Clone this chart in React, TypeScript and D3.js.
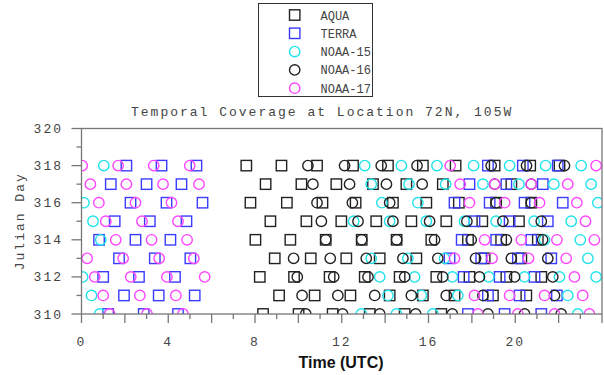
import React, { useEffect, useRef } from "react";
import * as d3 from "d3";

const days = [310, 311, 312, 313, 314, 315, 316, 317, 318];

// overpass times (UTC hours), one row per entry of `days`
const aqua = [
  [8.37, 10.01, 11.58, 13.29, 14.9, 16.59],
  [9.11, 10.75, 12.4, 14.21, 15.74, 17.2, 18.97, 20.51],
  [8.22, 9.8, 11.44, 13.06, 14.67, 16.36, 17.89, 19.59, 21.2],
  [8.91, 10.57, 12.21, 13.75, 15.44, 18.59, 20.28],
  [8.02, 9.63, 11.26, 12.92, 14.53, 16.13, 17.82, 19.35, 21.04],
  [8.71, 10.37, 11.98, 13.59, 15.21, 16.82, 18.48, 20.17],
  [7.79, 9.47, 11.11, 12.64, 14.36, 15.9, 17.4, 19.12, 20.74],
  [8.49, 10.14, 11.75, 13.44, 14.98, 16.66, 19.82],
  [7.6, 9.22, 10.86, 12.52, 14.13, 15.74, 17.25, 19.05, 20.69, 22.04],
];
const terra = [
  [1.23, 2.87, 4.45, 17.82, 19.51, 21.2],
  [1.96, 3.56, 5.22, 18.74, 20.2, 21.92],
  [1.0, 2.65, 4.31, 17.62, 19.28, 20.89],
  [1.73, 3.38, 5.02, 16.97, 18.43, 20.12, 21.66],
  [0.81, 2.49, 4.1, 17.53, 19.12, 20.74],
  [1.53, 3.15, 4.84, 18.12, 19.74, 21.5],
  [2.26, 3.92, 5.58, 17.2, 18.82, 20.43, 22.19],
  [1.35, 3.0, 4.61, 17.89, 19.59, 21.27],
  [2.07, 3.69, 5.3, 18.74, 20.35, 21.96],
];
const noaa15 = [
  [0.84, 12.9, 14.52, 16.2, 22.88],
  [0.46, 14.13, 15.67, 17.35, 22.42],
  [0.05, 13.75, 15.36, 17.1, 18.78, 20.43, 22.04, 23.73],
  [13.36, 15.05, 16.74, 23.35],
  [0.89, 21.35, 23.0],
  [0.53, 12.55, 14.21, 15.9, 17.66, 19.12, 20.87, 22.58],
  [0.11, 13.85, 15.51, 23.81],
  [13.36, 15.1, 16.79, 18.51, 20.17, 21.78, 23.5],
  [1.03, 13.06, 14.75, 16.39, 18.08, 19.74, 21.4, 23.04],
];
const noaa16 = [
  [10.34, 12.04, 13.75, 15.41, 17.1, 18.74, 20.43, 22.12],
  [10.17, 11.82, 13.52, 15.21, 16.82, 18.51, 21.81],
  [9.95, 11.63, 13.21, 14.9, 16.66, 18.35, 19.97, 21.73],
  [9.78, 11.47, 13.13, 14.82, 16.43, 18.17, 19.82, 21.5],
  [11.26, 12.92, 14.53, 16.28, 17.97, 19.59, 21.26],
  [11.06, 12.75, 14.36, 16.05, 17.77, 19.43, 21.2],
  [10.86, 12.49, 14.21, 19.12, 20.74],
  [10.67, 12.36, 14.06, 15.71, 19.05, 20.74],
  [10.44, 12.13, 13.82, 15.47, 18.89, 20.52, 22.27],
];
const noaa17 = [
  [1.3, 3.02, 4.68, 18.28, 20.12, 21.81, 23.42],
  [1.0, 2.69, 4.35, 18.12, 19.74, 21.35, 23.11],
  [0.61, 2.27, 3.94, 5.68, 22.73],
  [0.26, 1.92, 3.58, 5.18, 17.2, 18.93, 20.61, 22.35],
  [1.58, 3.23, 4.87, 18.59, 20.28, 21.92, 23.65],
  [1.12, 2.79, 4.45, 23.24],
  [0.8, 2.49, 4.15, 17.89, 19.51, 21.12, 22.84],
  [0.41, 2.07, 3.76, 5.42, 17.46, 19.05, 20.74, 22.42],
  [0.03, 1.69, 3.33, 4.99, 17.0, 23.73],
];

const xTicks = [0, 4, 8, 12, 16, 20];
const yTicks = [310, 312, 314, 316, 318, 320];

const series = [
  { name: "AQUA", shape: "square", color: "#222", data: aqua },
  { name: "TERRA", shape: "square", color: "#3b3bff", data: terra },
  { name: "NOAA-15", shape: "circle", color: "#1fe3ea", data: noaa15 },
  { name: "NOAA-16", shape: "circle", color: "#222", data: noaa16 },
  { name: "NOAA-17", shape: "circle", color: "#ff45ff", data: noaa17 },
];

const mono = "'Liberation Mono', 'DejaVu Sans Mono', monospace";

export default function App() {
  const svgRef = useRef<SVGSVGElement>(null);

  useEffect(() => {
    const W = 604;
    const H = 375;
    const svg = d3.select(svgRef.current);
    svg.selectAll("*").remove();
    svg.attr("width", W).attr("height", H).style("background", "#fff");

    const x = d3.scaleLinear().domain([0, 24]).range([81.5, 602]);
    const y = d3.scaleLinear().domain([310, 320]).range([314, 128.5]);
    const [x0, x1] = x.range();
    const [y0, y1] = y.range();
    const half = 5.2;

    svg
      .append("defs")
      .append("clipPath")
      .attr("id", "plot")
      .append("rect")
      .attr("x", x0)
      .attr("y", y1)
      .attr("width", x1 - x0)
      .attr("height", y0 - y1);

    const drawMark = (g, shape, color, cx, cy) => {
      if (shape === "square") {
        g.append("rect")
          .attr("x", cx - half)
          .attr("y", cy - half)
          .attr("width", half * 2)
          .attr("height", half * 2)
          .attr("fill", "none")
          .attr("stroke", color)
          .attr("stroke-width", 1.4);
      } else {
        g.append("circle")
          .attr("cx", cx)
          .attr("cy", cy)
          .attr("r", half)
          .attr("fill", "none")
          .attr("stroke", color)
          .attr("stroke-width", 1.4);
      }
    };

    const marks = svg.append("g").attr("clip-path", "url(#plot)");
    series.forEach((s) => {
      s.data.forEach((times, i) => {
        times.forEach((t) => drawMark(marks, s.shape, s.color, x(t), y(days[i])));
      });
    });

    // frame + axes
    const axisColor = "#777";
    svg
      .append("rect")
      .attr("x", x0)
      .attr("y", y1)
      .attr("width", x1 - x0)
      .attr("height", y0 - y1)
      .attr("fill", "none")
      .attr("stroke", axisColor)
      .attr("stroke-width", 1.3);

    d3.range(0, 25, 1).forEach((h) => {
      const len = h % 2 === 0 ? 9 : 5;
      svg
        .append("line")
        .attr("x1", x(h))
        .attr("x2", x(h))
        .attr("y1", y0)
        .attr("y2", y0 + len)
        .attr("stroke", axisColor)
        .attr("stroke-width", 1.3);
    });
    d3.range(310, 321, 1).forEach((d) => {
      const len = d % 2 === 0 ? 10 : 5;
      svg
        .append("line")
        .attr("x1", x0 - len)
        .attr("x2", x0)
        .attr("y1", y(d))
        .attr("y2", y(d))
        .attr("stroke", axisColor)
        .attr("stroke-width", 1.3);
    });

    svg
      .append("g")
      .selectAll("text")
      .data(xTicks)
      .join("text")
      .text((d) => `${d}`)
      .attr("x", (d) => x(d))
      .attr("y", 346)
      .attr("text-anchor", "middle")
      .attr("fill", "#444")
      .style("font-family", mono)
      .style("font-size", "13px")
      .style("letter-spacing", "2px");

    svg
      .append("g")
      .selectAll("text")
      .data(yTicks)
      .join("text")
      .text((d) => `${d}`)
      .attr("x", 63)
      .attr("y", (d) => y(d) + 4.5)
      .attr("text-anchor", "end")
      .attr("fill", "#444")
      .style("font-family", mono)
      .style("font-size", "13px")
      .style("letter-spacing", "2px");

    svg
      .append("text")
      .text("Temporal Coverage at Location 72N, 105W")
      .attr("x", 131)
      .attr("y", 116)
      .attr("fill", "#444")
      .style("font-family", mono)
      .style("font-size", "13px")
      .style("letter-spacing", "2px");

    svg
      .append("text")
      .text("Julian Day")
      .attr("transform", `translate(24, ${(y0 + y1) / 2}) rotate(-90)`)
      .attr("text-anchor", "middle")
      .attr("fill", "#444")
      .style("font-family", mono)
      .style("font-size", "13px")
      .style("letter-spacing", "2px");

    svg
      .append("text")
      .text("Time (UTC)")
      .attr("x", 341)
      .attr("y", 368)
      .attr("text-anchor", "middle")
      .attr("fill", "#111")
      .style("font-family", "'Liberation Sans', Arial, sans-serif")
      .style("font-weight", "bold")
      .style("font-size", "16px");

    // legend
    const lg = svg.append("g");
    lg.append("rect")
      .attr("x", 258.5)
      .attr("y", 3.5)
      .attr("width", 114)
      .attr("height", 93)
      .attr("fill", "#fff")
      .attr("stroke", "#333")
      .attr("stroke-width", 1);
    series.forEach((s, i) => {
      const cy = 15 + i * 18.3;
      drawMark(lg, s.shape, s.color, 294.7, cy);
      lg.append("text")
        .text(s.name)
        .attr("x", 320.5)
        .attr("y", cy + 4.5)
        .attr("fill", "#444")
        .style("font-family", mono)
        .style("font-size", "12px");
    });
  }, []);

  return (
    <div style={{ position: "absolute", left: 0, top: 0 }}>
      <svg ref={svgRef}></svg>
    </div>
  );
}
